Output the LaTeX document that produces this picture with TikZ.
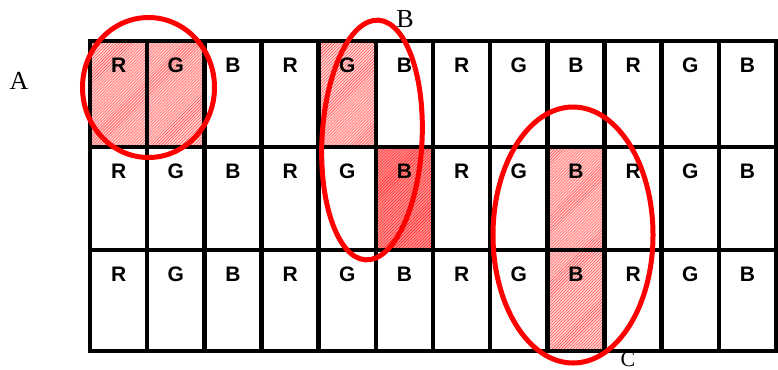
\documentclass[tikz,border=0pt]{standalone}
\usepackage{fontspec}
\setmainfont{Liberation Serif}
\newfontfamily\cellfont{Liberation Sans}
\usetikzlibrary{patterns}
\begin{document}
\begin{tikzpicture}[x=1bp,y=-1bp,
  hatchlight/.style={fill=red!18, postaction={pattern=north east lines, pattern color=red!75}},
  hatchdark/.style={fill=red!45, postaction={pattern=north east lines, pattern color=red!90}},
  gridline/.style={line width=4.5bp, black},
  ring/.style={draw=red, line width=5bp},
  cellletter/.style={font=\cellfont\bfseries\fontsize{21bp}{23bp}\selectfont, anchor=center, inner sep=0pt},
  marklabel/.style={font=\fontsize{26bp}{28bp}\selectfont, inner sep=0pt}]
\useasboundingbox (0,0) rectangle (778,369);
\def\cw{57.17}
% hatched cells
\fill[hatchlight] (90,41) rectangle (204.34,147);
\fill[hatchlight] (318.68,41) rectangle (375.85,147);
\fill[hatchdark] (375.85,147) rectangle (433.02,250);
\fill[hatchlight] (547.36,147) rectangle (604.53,351);
% grid
\draw[gridline] (90,41) rectangle (776,351);
\foreach \i in {1,...,11} {\draw[gridline] ({90+\i*\cw},41) -- ({90+\i*\cw},351);}
\draw[gridline] (90,147) -- (776,147);
\draw[gridline] (90,250) -- (776,250);
% letters
\foreach \r/\y in {1/65,2/171,3/274} {
  \foreach \c/\L in {0/R,1/G,2/B,3/R,4/G,5/B,6/R,7/G,8/B,9/R,10/G,11/B} {
    \node[cellletter] (l\r-\c) at ({90+(\c+0.5)*\cw},\y) {\L};
  }
}
% ellipses
\draw[ring] (148.5,87.5) ellipse [x radius=66bp, y radius=70bp];
\draw[ring, shift={(372,140)}, rotate=-3] (0,0) ellipse [x radius=50bp, y radius=120bp];
\draw[ring] (573,235) ellipse [x radius=80bp, y radius=128bp];
% labels
\node[marklabel] (A) at (19,81) {A};
\node[marklabel] (B) at (405,19) {B};
\node[marklabel, font=\fontsize{22bp}{24bp}\selectfont, text depth=0pt, anchor=base] (C) at (628,366) {C};
\end{tikzpicture}
\end{document}
